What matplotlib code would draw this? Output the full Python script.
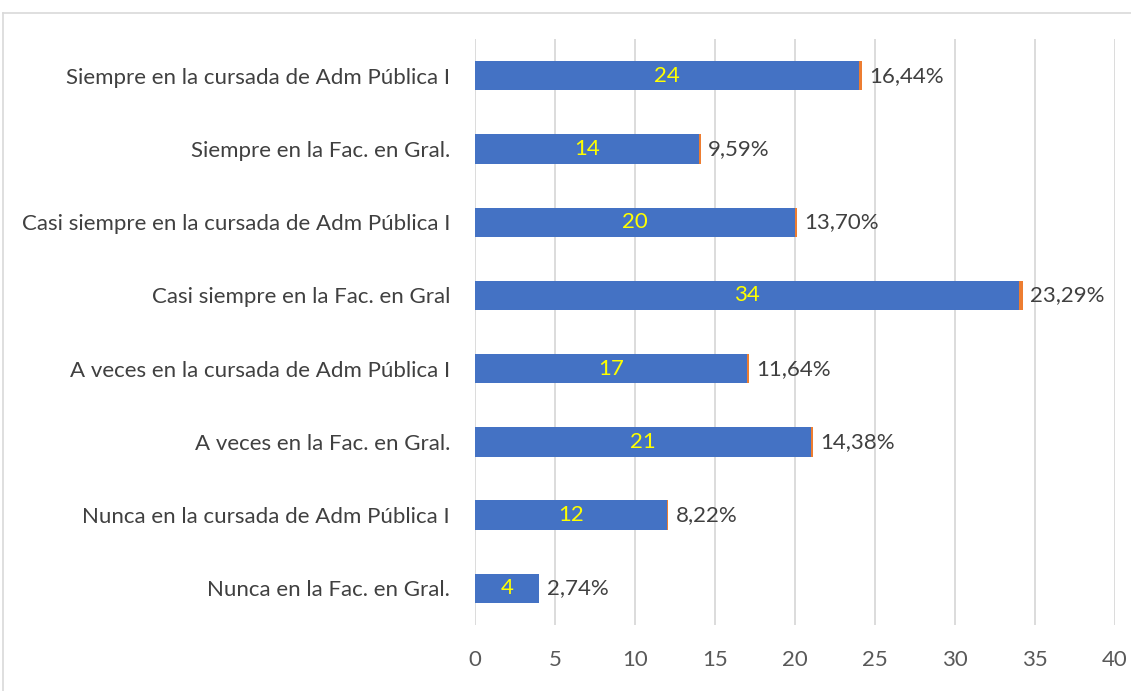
import matplotlib
matplotlib.use("Agg")
import matplotlib.pyplot as plt
from matplotlib.lines import Line2D

categories = [
    "Siempre en la cursada de Adm Pública I",
    "Siempre en la Fac. en Gral.",
    "Casi siempre en la cursada de Adm Pública I",
    "Casi siempre en la Fac. en Gral",
    "A veces en la cursada de Adm Pública I",
    "A veces en la Fac. en Gral.",
    "Nunca en la cursada de Adm Pública I",
    "Nunca en la Fac. en Gral.",
]
counts = [24, 14, 20, 34, 17, 21, 12, 4]
shares = [0.1644, 0.0959, 0.1370, 0.2329, 0.1164, 0.1438, 0.0822, 0.0274]
share_labels = ["16,44%", "9,59%", "13,70%", "23,29%", "11,64%", "14,38%", "8,22%", "2,74%"]
xticks = [0, 5, 10, 15, 20, 25, 30, 35, 40]

plt.rcParams['font.family'] = ['Lato', 'DejaVu Sans']
fs = 16

fig = plt.figure(figsize=(11.31, 6.91), dpi=100)
fig.patch.set_facecolor('white')
ax = fig.add_axes([0.42, 0.0955, 0.5659, 0.848])

ypos = list(range(len(categories)))
ax.barh(ypos, counts, height=0.4, color='#4472C4', zorder=3)
ax.barh(ypos, shares, left=counts, height=0.4, color='#ED7D31', zorder=3)

for y, c, s, lab in zip(ypos, counts, shares, share_labels):
    ax.text(c / 2, y, str(c), ha='center', va='center', color='#FFFF00', fontsize=fs, zorder=4)
    ax.text(c + s + 0.45, y, lab, ha='left', va='center', color='#404040', fontsize=fs, zorder=4)

ax.set_ylim(len(categories) - 0.5, -0.5)
ax.set_xlim(0, 40)
ax.set_yticks(ypos)
ax.set_yticklabels(categories, fontsize=fs, color='#404040')
ax.set_xticks(xticks)
ax.set_xticklabels([str(t) for t in xticks], fontsize=fs, color='#595959')
ax.tick_params(axis='x', length=0, pad=18)
ax.tick_params(axis='y', length=0, pad=18)
ax.grid(axis='x', color='#D9D9D9', linewidth=1.3, zorder=0)
for sp in ax.spines.values():
    sp.set_visible(False)

# chart area border
fig.add_artist(Line2D([0.003, 1.0], [0.981, 0.981], color='#D9D9D9', linewidth=1.2))
fig.add_artist(Line2D([0.003, 0.003], [0.0, 0.981], color='#D9D9D9', linewidth=1.2))

fig.savefig('out.png', dpi=100, facecolor='white')
